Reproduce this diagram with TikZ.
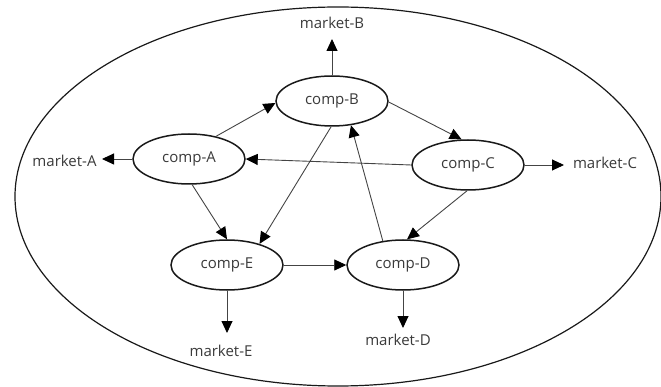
\documentclass[tikz,border=0pt]{standalone}
\usepackage{fontspec}
\setmainfont{Open Sans}
\usetikzlibrary{shapes.geometric,arrows.meta}
\definecolor{txt}{HTML}{3A3A3A}
\definecolor{edge}{HTML}{444444}
\begin{document}
\begin{tikzpicture}[x=1pt,y=-1pt,
  comp/.style={ellipse,draw=black!90,line width=1.5pt,minimum width=112pt,minimum height=50pt,inner sep=0pt,font=\fontsize{15}{18}\selectfont,text=txt},
  mkt/.style={font=\fontsize{15}{18}\selectfont,text=txt,inner sep=0pt},
  link/.style={draw=edge,line width=0.9pt,-{Triangle[length=12pt,width=11pt,color=black]}}]
\useasboundingbox (0,0) rectangle (661,387);
\draw[line width=1.2pt,black!90] (338,196.5) ellipse [x radius=323, y radius=189.5];
\node[comp] (A) at (189,159) {comp-A};
\node[comp] (B) at (332,101) {comp-B};
\node[comp] (C) at (468,165) {comp-C};
\node[comp] (E) at (227,265) {comp-E};
\node[comp] (D) at (403,265) {comp-D};
\node[mkt] (mB) at (332,23) {market-B};
\node[mkt] (mA) at (64.5,161) {market-A};
\node[mkt] (mC) at (605,163) {market-C};
\node[mkt] (mE) at (221,351) {market-E};
\node[mkt] (mD) at (398,340) {market-D};
\coordinate (tB) at (332,39);
\coordinate (tA) at (102,159);
\coordinate (tC) at (564,165);
\coordinate (tE) at (227,333);
\coordinate (tD) at (403,328);
\draw[link] (A.40) -- (B.182);
\draw[link] (B.359) -- (C.104);
\draw[link] (C.180) -- (A.0);
\draw[link] (B.268) -- (E.33);
\draw[link] (D.130) -- (B.308);
\draw[link] (A.277) -- (E.90);
\draw[link] (C.268) -- (D.81);
\draw[link] (E.east) -- (D.west);
\draw[link] (B.north) -- (tB);
\draw[link] (A.west) -- (tA);
\draw[link] (C.east) -- (tC);
\draw[link] (E.south) -- (tE);
\draw[link] (D.south) -- (tD);
\end{tikzpicture}
\end{document}
